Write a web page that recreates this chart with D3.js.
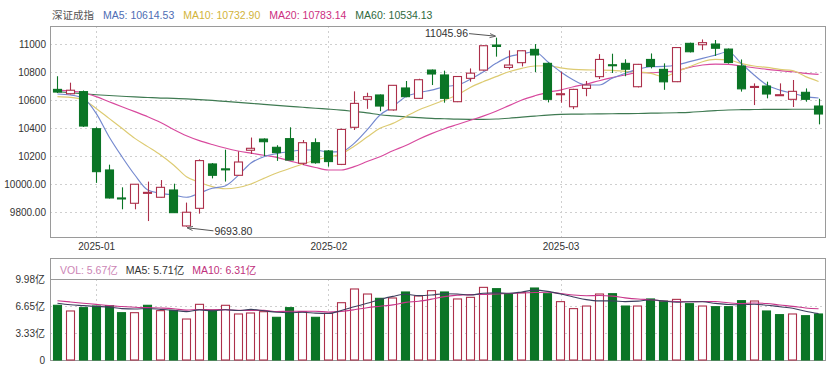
<!DOCTYPE html>
<html><head><meta charset="utf-8">
<script src="https://cdn.jsdelivr.net/npm/d3@7/dist/d3.min.js"></script>
<style>
body{margin:0;background:#fff}
svg{display:block}
text{font-family:"Liberation Sans",Arial,"Noto Sans CJK SC",sans-serif}
</style>
</head><body>
<svg id="chart" width="830" height="366"></svg>
<script>
const dates = ["2024-12-27","2024-12-30","2024-12-31",
"2025-01-02","2025-01-03","2025-01-06","2025-01-07","2025-01-08","2025-01-09","2025-01-10","2025-01-13","2025-01-14","2025-01-15","2025-01-16","2025-01-17","2025-01-20","2025-01-21","2025-01-22","2025-01-23","2025-01-24","2025-01-27",
"2025-02-05","2025-02-06","2025-02-07","2025-02-10","2025-02-11","2025-02-12","2025-02-13","2025-02-14","2025-02-17","2025-02-18","2025-02-19","2025-02-20","2025-02-21","2025-02-24","2025-02-25","2025-02-26","2025-02-27","2025-02-28",
"2025-03-03","2025-03-04","2025-03-05","2025-03-06","2025-03-07","2025-03-10","2025-03-11","2025-03-12","2025-03-13","2025-03-14","2025-03-17","2025-03-18","2025-03-19","2025-03-20","2025-03-21","2025-03-24","2025-03-25","2025-03-26","2025-03-27","2025-03-28","2025-03-31"];

const open  = [10676,10645,10660,10395,10100,9900,9862,9936,9905,9957,9700,9826,10143,10108,10062,10241,10321,10262,10324,10148,10295,10236,10140,10405,10605,10636,10529,10686,10612,10814,10779,10588,10755,10814,10993,10833,10867,10962,10862,10640,10552,10683,10767,10852,10862,10695,10890,10819,10731,11005,10995,11000,10964,10843,10693,10700,10634,10605,10655,10557];
const high  = [10770,10724,10668,10405,10138,9976,10000,10017,10028,10002,9867,10176,10150,10245,10233,10332,10326,10277,10405,10314,10326,10243,10395,10662,10652,10640,10707,10736,10752,10818,10810,10771,10826,10993,11045.96,10955,10955,11000,10868,10802,10680,10736,10928,10931,10891,10858,10933,10862,10978,11010,11033,11029,10968,10890,10719,10731,10719,10743,10683,10609];
const low   = [10650,10640,10408,10008,9896,9819,9819,9735,9903,9793,9693.8,9788,10040,10017,10058,10214,10200,10165,10169,10136,10145,10124,10135,10386,10537,10520,10524,10620,10608,10707,10581,10585,10731,10810,10910,10819,10840,10800,10583,10581,10535,10627,10750,10793,10770,10690,10826,10673,10728,10940,10957,10915,10860,10660,10564,10612,10629,10550,10588,10426];
const close = [10657,10670,10414,10088,9900,9895,9998,9940,9976,9795,9798,10167,10062,10102,10157,10255,10302,10224,10171,10295,10152,10160,10390,10576,10624,10557,10705,10624,10745,10786,10612,10768,10792,10988,10983,10850,10952,10922,10605,10645,10676,10707,10890,10846,10820,10855,10840,10730,10975,10945,11010,10970,10868,10680,10697,10643,10638,10662,10605,10500];

const ma5  = [10643,10636,10612,10505,10338,10195,10064,9957,9933,9921,9905,9935,9969,9986,10060,10150,10195,10217,10231,10243,10243,10228,10231,10290,10386,10493,10552,10624,10652,10671,10695,10707,10748,10800,10862,10910,10929,10945,10874,10802,10743,10707,10707,10755,10790,10821,10838,10840,10850,10874,10898,10921,10945,10862,10779,10707,10671,10648,10624,10614.53];
const ma10 = [10624,10619,10600,10540,10469,10398,10326,10267,10207,10136,10052,10012,9981,9966,9975,10000,10040,10078,10110,10143,10170,10192,10215,10270,10335,10398,10433,10481,10529,10564,10600,10636,10690,10731,10767,10802,10826,10843,10845,10830,10819,10815,10814,10812,10805,10800,10790,10767,10802,10838,10874,10890,10886,10862,10843,10833,10819,10810,10767,10732.90];
const ma20 = [10671,10665,10652,10624,10588,10552,10517,10481,10440,10390,10345,10310,10282,10257,10236,10220,10205,10190,10165,10140,10118,10100,10100,10124,10160,10195,10237,10275,10320,10360,10395,10425,10455,10485,10520,10560,10600,10630,10655,10671,10695,10714,10738,10760,10779,10795,10795,10800,10810,10833,10850,10857,10855,10843,10831,10819,10810,10802,10790,10783.14];
const ma60 = [10660,10652,10645,10638,10632,10627,10622,10618,10614,10612,10608,10603,10597,10590,10583,10576,10569,10562,10555,10548,10541,10535,10528,10518,10508,10495,10487,10480,10474,10469,10466,10463,10462,10462,10464,10470,10478,10485,10492,10497,10499,10500,10501,10502,10503,10504,10506,10507,10509,10512,10518,10524,10529,10531,10532,10533,10533,10534,10534,10534.13];

const volume   = [6.74,6.04,6.45,6.65,6.70,5.83,5.83,6.74,6.08,6.12,5.05,6.86,6.16,6.74,5.67,5.79,5.95,5.26,6.45,5.95,5.26,5.75,7.06,8.75,8.13,7.60,7.64,8.38,7.89,8.54,8.38,7.52,7.72,8.95,8.79,8.13,8.30,8.87,8.17,7.19,6.33,6.65,8.13,8.17,6.65,6.65,7.52,7.27,7.47,6.94,6.65,6.57,6.57,7.31,7.27,6.04,5.59,5.67,5.46,5.67];
const volumeUp = [0,1,0,0,0,0,1,0,1,0,1,1,0,1,1,1,1,0,0,1,0,1,1,1,1,0,1,0,1,1,0,1,1,1,0,0,1,0,0,1,1,1,1,0,0,1,0,0,1,0,1,0,0,0,1,0,0,1,0,0];
const volMa5  = [7.00,6.80,6.70,6.60,6.52,6.33,6.29,6.35,6.24,6.12,5.96,6.17,6.05,6.19,6.10,6.24,6.06,5.88,5.82,5.88,5.77,5.73,6.09,6.55,6.99,7.46,7.84,8.10,7.93,8.01,8.17,8.14,8.01,8.22,8.27,8.22,8.38,8.61,8.45,8.13,7.77,7.44,7.29,7.29,7.19,7.25,7.42,7.25,7.11,7.17,7.17,6.98,6.84,6.81,6.87,6.75,6.56,6.38,6.01,5.71];
const volMa10 = [7.30,7.15,7.00,6.85,6.70,6.60,6.50,6.45,6.40,6.32,6.15,6.23,6.20,6.21,6.11,6.10,6.12,5.97,6.01,5.99,6.01,5.90,5.99,6.19,6.44,6.62,6.79,7.10,7.24,7.50,7.81,7.99,8.06,8.08,8.14,8.19,8.26,8.31,8.34,8.20,8.00,7.91,7.95,7.87,7.66,7.51,7.43,7.27,7.20,7.18,7.21,7.20,7.05,6.96,7.02,6.96,6.77,6.61,6.41,6.31];

const priceTicks = [9800,10000,10200,10400,10600,10800,11000];
const priceTickLabels = ["9800.00","10000.00","10200","10400","10600","10800","11000"];
const volTicks = [0,3.33,6.65,9.98];
const volTickLabels = ["0","3.33亿","6.65亿","9.98亿"];
const monthTicks = ["2025-01-02","2025-02-05","2025-03-03"];
const monthLabels = ["2025-01","2025-02","2025-03"];
const indexName = "深证成指";
const maNames = ["MA5","MA10","MA20","MA60"];
const volLegendNames = ["VOL","MA5","MA10"];

// ---------- layout / style ----------
const svg = d3.select("#chart");
const L = 50, R = 825, mainTop = 26, mainBot = 237, volTop = 258, volGrid = 279, volBot = 360;
const upC = "#ac2f4a", downC = "#0b7526", gridC = "#cfcfcf", borderC = "#9a9a9a";
const maColors = ["#7489cf","#ddcb72","#d84a9e","#3f7a52"];
const maTextColors = ["#4e6db4","#d2b43a","#cc2f80","#2f6a40"];

const x = d3.scalePoint().domain(dates).range([51, 825]).padding(0.5);
const bw = x.step() * 0.7;
const y = d3.scaleLinear().domain([9621, 11129]).range([mainBot, mainTop]);
const yv = d3.scaleLinear().domain([0, 9.98]).range([volBot, volGrid]);

svg.append("defs").append("marker").attr("id","arr").attr("viewBox","0 0 10 10")
  .attr("refX",9).attr("refY",5).attr("markerWidth",6).attr("markerHeight",6).attr("orient","auto")
  .append("path").attr("d","M0,1.5L10,5L0,8.5").attr("fill","none").attr("stroke","#555").attr("stroke-width",1.4);

// grids main
const g = svg.append("g");
g.selectAll(".hg").data(priceTicks).join("line")
  .attr("x1",L).attr("x2",R).attr("y1",d=>Math.round(y(d))+0.5).attr("y2",d=>Math.round(y(d))+0.5)
  .attr("stroke",gridC).attr("stroke-dasharray","2,3");
g.selectAll(".vg").data(monthTicks).join("line")
  .attr("x1",d=>Math.round(x(d))+0.5).attr("x2",d=>Math.round(x(d))+0.5).attr("y1",mainTop).attr("y2",mainBot)
  .attr("stroke",gridC).attr("stroke-dasharray","2,3");
// grids volume
g.selectAll(".hvg").data(volTicks.slice(1,3)).join("line")
  .attr("x1",L).attr("x2",R).attr("y1",d=>Math.round(yv(d))+0.5).attr("y2",d=>Math.round(yv(d))+0.5)
  .attr("stroke",gridC).attr("stroke-dasharray","2,3");
g.selectAll(".vvg").data(monthTicks).join("line")
  .attr("x1",d=>Math.round(x(d))+0.5).attr("x2",d=>Math.round(x(d))+0.5).attr("y1",volGrid).attr("y2",volBot)
  .attr("stroke",gridC).attr("stroke-dasharray","2,3");

// borders
svg.append("rect").attr("x",L+0.5).attr("y",mainTop+0.5).attr("width",R-L).attr("height",mainBot-mainTop)
  .attr("fill","none").attr("stroke",borderC);
svg.append("rect").attr("x",L+0.5).attr("y",volTop+0.5).attr("width",R-L).attr("height",volBot-volTop)
  .attr("fill","none").attr("stroke",borderC);
svg.append("line").attr("x1",L).attr("x2",R).attr("y1",volGrid+0.5).attr("y2",volGrid+0.5).attr("stroke",borderC);

// axes
const ya = svg.append("g").attr("transform",`translate(${L},0)`)
  .call(d3.axisLeft(y).tickValues(priceTicks).tickFormat((d,i)=>priceTickLabels[i]).tickSize(0).tickPadding(4));
const yva = svg.append("g").attr("transform",`translate(${L},0)`)
  .call(d3.axisLeft(yv).tickValues(volTicks).tickFormat((d,i)=>volTickLabels[i]).tickSize(0).tickPadding(5));
const xa = svg.append("g").attr("transform",`translate(0,${mainBot})`)
  .call(d3.axisBottom(x).tickValues(monthTicks).tickFormat((d,i)=>monthLabels[i]).tickSize(0).tickPadding(6));
[ya,yva,xa].forEach(a=>{a.select(".domain").remove();a.selectAll("text").attr("font-size",10).attr("fill","#333")
  .attr("font-family",'"Liberation Sans",Arial,"Noto Sans CJK SC",sans-serif');});

// MA lines main
const maData = [ma5, ma10, ma20, ma60];
const line = arr => d3.line().x((d,i)=>x(dates[i])).y(d=>y(d)).curve(d3.curveMonotoneX)(arr);
[3,2,1,0].forEach(k=>{
  svg.append("path").attr("d",line(maData[k])).attr("fill","none").attr("stroke",maColors[k]).attr("stroke-width",1.15);
});

// candles
const idx = d3.range(dates.length);
const cg = svg.append("g");
cg.selectAll(".wick").data(idx).join("line")
  .attr("x1",i=>Math.round(x(dates[i]))+0.5).attr("x2",i=>Math.round(x(dates[i]))+0.5)
  .attr("y1",i=>y(high[i])).attr("y2",i=>y(low[i]))
  .attr("stroke",i=>close[i]>=open[i]?upC:downC).attr("stroke-width",1.1);
cg.selectAll(".body").data(idx).join("rect")
  .attr("x",i=>Math.round(x(dates[i])-bw/2)+0.5)
  .attr("y",i=>y(Math.max(open[i],close[i])))
  .attr("width",Math.round(bw)-1)
  .attr("height",i=>Math.max(1,Math.abs(y(open[i])-y(close[i]))))
  .attr("fill",i=>close[i]>=open[i]?"#fff":downC)
  .attr("stroke",i=>close[i]>=open[i]?upC:downC).attr("stroke-width",1.1);

// annotations max/min
const iMax = d3.maxIndex(high), iMin = d3.minIndex(low);
const xm = x(dates[iMax]), ym = y(high[iMax]);
svg.append("line").attr("x1",xm-27).attr("y1",ym-4).attr("x2",xm-1).attr("y2",ym-1.5)
  .attr("stroke","#555").attr("stroke-width",1).attr("marker-end","url(#arr)");
svg.append("text").attr("x",xm-28).attr("y",ym-1).attr("text-anchor","end").attr("font-size",10.5).attr("fill","#333")
  .text(d3.format(".2f")(high[iMax]));
const xn = x(dates[iMin]), yn = y(low[iMin]);
svg.append("line").attr("x1",xn+27).attr("y1",yn+4).attr("x2",xn+1).attr("y2",yn+1)
  .attr("stroke","#555").attr("stroke-width",1).attr("marker-end","url(#arr)");
svg.append("text").attr("x",xn+28).attr("y",yn+8).attr("font-size",10.5).attr("fill","#333")
  .text(d3.format(".2f")(low[iMin]));

// volume bars
const vg = svg.append("g");
vg.selectAll("rect").data(idx).join("rect")
  .attr("x",i=>Math.round(x(dates[i])-bw/2)+0.5)
  .attr("y",i=>yv(volume[i]))
  .attr("width",Math.round(bw)-1)
  .attr("height",i=>volBot-yv(volume[i]))
  .attr("fill",i=>volumeUp[i]?"#fff":downC)
  .attr("stroke",i=>volumeUp[i]?upC:downC).attr("stroke-width",1.1);
const vline = arr => d3.line().x((d,i)=>x(dates[i])).y(d=>yv(d)).curve(d3.curveMonotoneX)(arr);
svg.append("path").attr("d",vline(volMa10)).attr("fill","none").attr("stroke","#c8358a").attr("stroke-width",1.1);
svg.append("path").attr("d",vline(volMa5)).attr("fill","none").attr("stroke","#3d3f5e").attr("stroke-width",1.1);

// legends
const fmt2 = d3.format(".2f");
const leg = [{t:indexName,c:"#555"}].concat(maNames.map((n,k)=>({t:`${n}: ${fmt2(maData[k][maData[k].length-1])}`,c:maTextColors[k]})));
let lx = 52;
leg.forEach(o=>{
  const t = svg.append("text").attr("x",lx).attr("y",19).attr("font-size",10.5).attr("fill",o.c).text(o.t);
  lx += t.node().getComputedTextLength() + 9;
});
const last = volume.length-1;
const vleg = [
  {t:`${volLegendNames[0]}: ${fmt2(volume[last])}亿`, c:"#cc85b5"},
  {t:`${volLegendNames[1]}: ${fmt2(volMa5[last])}亿`, c:"#333"},
  {t:`${volLegendNames[2]}: ${fmt2(volMa10[last])}亿`, c:"#c0307c"}];
let vx = 60;
vleg.forEach(o=>{
  const t = svg.append("text").attr("x",vx).attr("y",274).attr("font-size",10.5).attr("fill",o.c).text(o.t);
  vx += t.node().getComputedTextLength() + 8;
});
</script>
</body></html>
